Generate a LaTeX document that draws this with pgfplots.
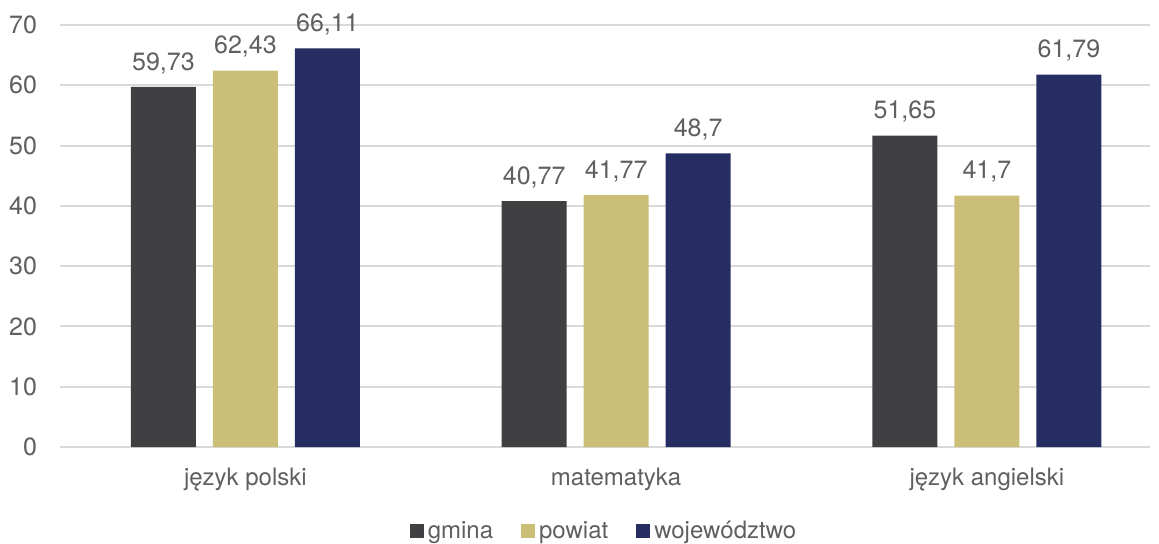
\documentclass[border=0pt]{standalone}
\usepackage{pgfplots}
\pgfplotsset{compat=1.18}
\usepackage{fontspec}
\setmainfont{TeX Gyre Heros}
\definecolor{cgm}{HTML}{404043}
\definecolor{cpo}{HTML}{CBBF78}
\definecolor{cwo}{HTML}{252D63}
\definecolor{ctxt}{HTML}{5F5F5F}
\definecolor{cgrid}{HTML}{D9D9D9}
\begin{document}
\begin{tikzpicture}
\begin{axis}[
  at={(0,0)}, anchor=south west,
  scale only axis, width=545pt, height=211pt,
  ymin=0, ymax=70, ytick={0,10,...,70},
  xmin=-0.5, xmax=2.44,
  xtick=data, xticklabels={język polski, matematyka, język angielski},
  ybar=8.5pt, bar width=32.5pt,
  axis line style={draw=none},
  major tick length=0pt,
  ymajorgrids, major grid style={draw=cgrid, line width=1pt},
  font=\fontsize{12}{14}\selectfont\color{ctxt},
  yticklabel style={xshift=-8pt, font=\fontsize{12.5}{14}\selectfont\color{ctxt}},
  xticklabel style={yshift=-7pt},
  /pgf/number format/assume math mode=true,
  /pgf/number format/use comma,
  /pgf/number format/precision=2,
  nodes near coords,
  nodes near coords style={font=\fontsize{12.5}{14}\selectfont\color{ctxt}, yshift=3pt},
  legend columns=3,
  legend style={draw=none, fill=none, at={(0.5,-0.2)}, anchor=center,
    font=\fontsize{12}{14}\selectfont\color{ctxt},
    /tikz/every even column/.append style={column sep=12pt}},
  legend image code/.code={\fill[#1] (1pt,-3.5pt) rectangle (8pt,3.5pt);},
]
\addplot[fill=cgm, draw=none] coordinates {(0,59.73) (1,40.77) (2,51.65)};
\addplot[fill=cpo, draw=none] coordinates {(0,62.43) (1,41.77) (2,41.7)};
\addplot[fill=cwo, draw=none] coordinates {(0,66.11) (1,48.7) (2,61.79)};
\legend{gmina, powiat, województwo}
\end{axis}
\pgfresetboundingbox
\path[use as bounding box] (-30pt,-48pt) rectangle (549.5pt,223.5pt);
\end{tikzpicture}
\end{document}
